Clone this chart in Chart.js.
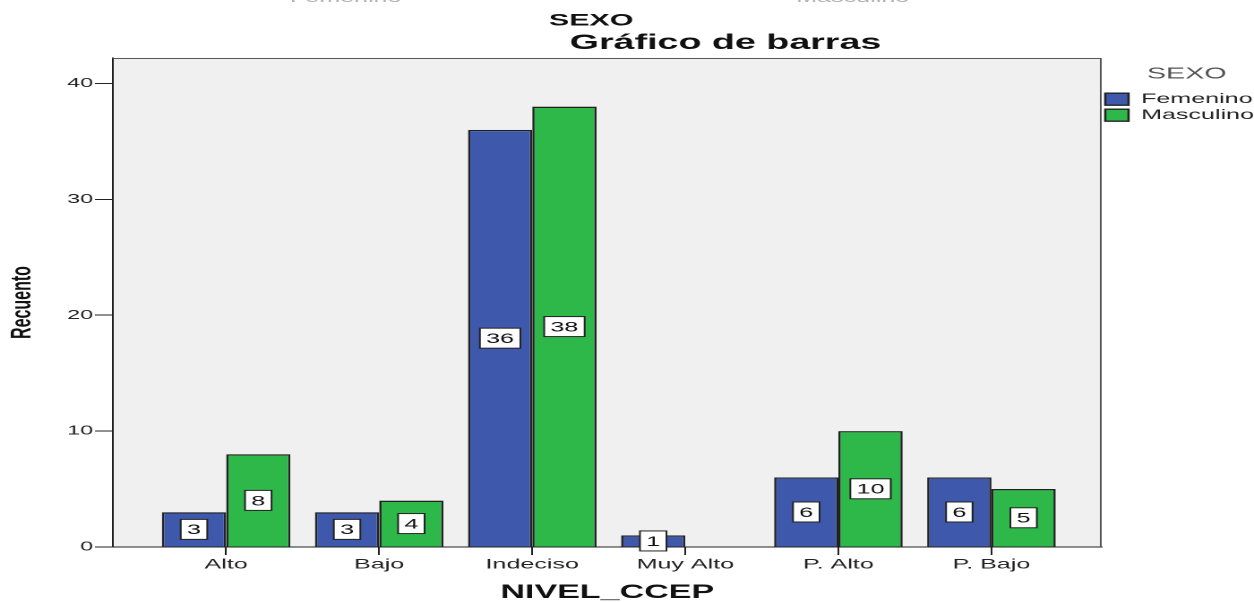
<!DOCTYPE html>
<html>
<head>
<meta charset="utf-8">
<script src="https://cdn.jsdelivr.net/npm/chart.js@4.4.1/dist/chart.umd.min.js"></script>
<style>
	html, body { margin: 0; padding: 0; background: #fff; overflow: hidden; }
	#wrap { width: 1254px; height: 602px; overflow: hidden; }
	/* the reference is a horizontally stretched SPSS chart */
	#chart { transform: scaleX(1.7914); transform-origin: 0 0; }
</style>
</head>
<body>
<div id="wrap"><canvas id="chart" width="700" height="602"></canvas></div>
<script>

	/* Data */
	var categories = ['Alto', 'Bajo', 'Indeciso', 'Muy Alto', 'P. Alto', 'P. Bajo'];
	var femenino = [3, 3, 36, 1, 6, 6];
	var masculino = [8, 4, 38, null, 10, 5];
	var seriesNames = ['Femenino', 'Masculino'];
	var yMax = 42.2;
	var yStep = 10;

	var FONT = '"Liberation Sans", Arial, sans-serif';


	/* ********************************

	    Plugins - frame, titles, labels

	******************************** */

	var framePlugin = {
		id: 'frame',
		beforeDraw: function(chart) {
			var a = chart.chartArea, ctx = chart.ctx;
			ctx.save();
			ctx.fillStyle = '#f0f0f0';
			ctx.fillRect(a.left, a.top, a.right - a.left, a.bottom - a.top);
			ctx.restore();
		},
		afterDraw: function(chart) {
			var a = chart.chartArea, ctx = chart.ctx;
			ctx.save();
			ctx.strokeStyle = '#555';
			ctx.lineWidth = 1;
			ctx.beginPath();
			ctx.moveTo(a.left, a.top + 0.5);
			ctx.lineTo(a.right - 0.5, a.top + 0.5);
			ctx.lineTo(a.right - 0.5, a.bottom);
			ctx.stroke();
			ctx.restore();
		}
	};

	var titlePlugin = {
		id: 'titles',
		afterDraw: function(chart) {
			var ctx = chart.ctx;
			ctx.save();
			ctx.textAlign = 'center';
			ctx.textBaseline = 'alphabetic';
			// cut-off labels from the chart above
			ctx.fillStyle = '#b0b0b0';
			ctx.font = '14px ' + FONT;
			ctx.fillText('Femenino', 193, 2);
			ctx.fillText('Masculino', 476, 2);
			ctx.fillStyle = '#111';
			ctx.textBaseline = 'middle';
			ctx.font = 'bold 17px ' + FONT;
			ctx.fillText('SEXO', 330, 21);
			ctx.font = 'bold 21px ' + FONT;
			ctx.fillText('Gráfico de barras', 405, 43);
			ctx.restore();
		}
	};

	var barLabelPlugin = {
		id: 'barLabels',
		afterDatasetsDraw: function(chart) {
			var ctx = chart.ctx;
			ctx.save();
			ctx.font = '14px ' + FONT;
			ctx.textAlign = 'center';
			ctx.textBaseline = 'middle';
			chart.data.datasets.forEach(function(ds, i) {
				var meta = chart.getDatasetMeta(i);
				meta.data.forEach(function(bar, j) {
					var v = ds.data[j];
					if (v === null || v === undefined) return;
					var txt = String(v);
					var w = ctx.measureText(txt).width + 7;
					var h = 20;
					var cx = bar.x;
					var cy = (bar.y + bar.base) / 2;
					ctx.fillStyle = '#fff';
					ctx.fillRect(cx - w / 2, cy - h / 2, w, h);
					ctx.strokeStyle = '#222';
					ctx.lineWidth = 1;
					ctx.strokeRect(cx - w / 2, cy - h / 2, w, h);
					ctx.fillStyle = '#111';
					ctx.fillText(txt, cx, cy + 1);
				});
			});
			ctx.restore();
		}
	};


	/* ********************************

	    Chart - NIVEL_CCEP by SEXO

	******************************** */

	function buildChart() {

		var chartData = {
			labels: categories,
			datasets: [{
				label: seriesNames[0],
				data: femenino,
				backgroundColor: '#3e58ac',
				borderColor: '#222',
				borderWidth: 1.3
			}, {
				label: seriesNames[1],
				data: masculino,
				backgroundColor: '#2eb84a',
				borderColor: '#222',
				borderWidth: 1.3
			}]
		};

		var ctx = document.getElementById('chart');

		var chart = new Chart(ctx, {
			type: 'bar',
			data: chartData,
			plugins: [framePlugin, titlePlugin, barLabelPlugin],
			options: {
				responsive: false,
				animation: false,
				devicePixelRatio: 2,
				layout: {
					padding: { top: 58, left: 0, right: -10, bottom: 0 }
				},
				datasets: {
					bar: { categoryPercentage: 0.84, barPercentage: 1.0 }
				},
				scales: {
					x: {
						type: 'category',
						offset: true,
						afterBuildTicks: function(scale) {
							// extra room on both sides, like SPSS
							scale._startValue = -0.74;
							scale._valueRange = categories.length - 1 + 0.74 + 0.72;
						},
						afterFit: function(scale) { scale.height = 55; },
						border: { color: '#222', width: 1 },
						grid: { offset: false, drawOnChartArea: false, tickLength: 8, color: '#222' },
						ticks: { color: '#222', padding: 1, font: { family: FONT, size: 14 }, maxRotation: 0 },
						title: {
							display: true,
							text: 'NIVEL_CCEP',
							color: '#111',
							font: { family: FONT, size: 19, weight: 'bold' },
							padding: { top: 4, bottom: -2 }
						}
					},
					y: {
						min: 0,
						max: yMax,
						afterFit: function(scale) { scale.width = 63; },
						border: { color: '#222', width: 1 },
						grid: { drawOnChartArea: false, tickLength: 10, color: '#222' },
						ticks: { stepSize: yStep, includeBounds: false, color: '#222', padding: 1, font: { family: FONT, size: 13 } },
						title: {
							display: true,
							text: 'Recuento',
							color: '#111',
							font: { family: FONT, size: 16, weight: 'bold' },
							padding: { top: 3, bottom: 0 }
						}
					}
				},
				plugins: {
					title: { display: false },
					tooltip: { enabled: false },
					legend: {
						position: 'right',
						align: 'start',
						title: {
							display: true,
							text: 'SEXO',
							color: '#555',
							font: { family: FONT, size: 16 },
							padding: { top: 8, bottom: 5 }
						},
						labels: {
							boxWidth: 13,
							boxHeight: 12,
							padding: 2,
							color: '#222',
							font: { family: FONT, size: 14 }
						}
					}
				}
			}
		});
		return chart;
	};
	buildChart();

</script>
</body>
</html>
